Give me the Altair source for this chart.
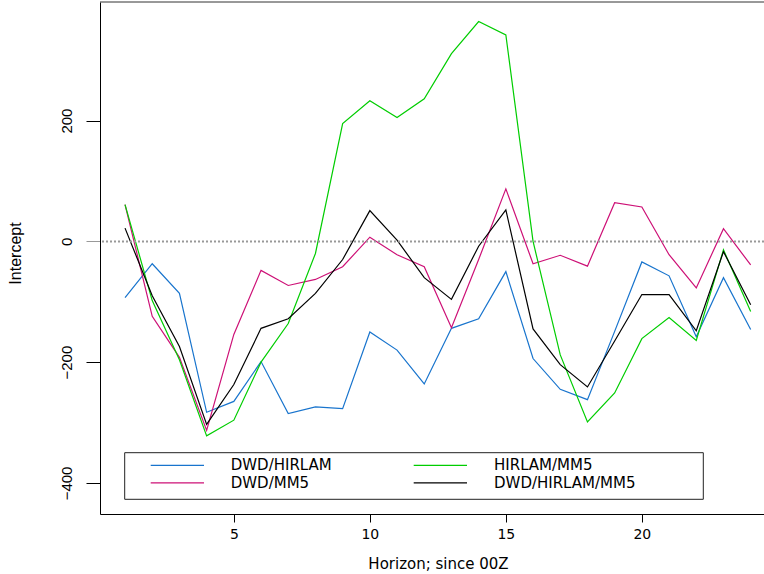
import altair as alt
import pandas as pd

# Forecast horizon (hours since 00Z)
horizon = list(range(1, 25))

series_names = ["DWD/HIRLAM", "DWD/MM5", "HIRLAM/MM5", "DWD/HIRLAM/MM5"]
series_colors = ["#1874CD", "#CD1076", "#00CD00", "#000000"]

# Intercept per horizon for each model combination
dwd_hirlam = [-93, -37, -86, -283, -265, -199, -285, -274, -277, -150, -180, -236,
              -144, -128, -50, -194, -245, -262, -149, -34, -57, -158, -60, -146]
dwd_mm5 = [61, -124, -192, -313, -154, -48, -73, -63, -42, 7, -22, -42,
           -143, -30, 87, -37, -23, -41, 64, 57, -22, -77, 21, -39]
hirlam_mm5 = [61, -98, -196, -322, -296, -200, -136, -20, 195, 233, 205, 236,
              311, 364, 342, 0, -188, -299, -251, -161, -126, -164, -14, -116]
dwd_hirlam_mm5 = [22, -90, -174, -303, -237, -144, -128, -86, -30, 51, 2, -60,
                  -96, -8, 52, -145, -204, -241, -165, -88, -88, -148, -17, -105]

x_ticks = [5, 10, 15, 20]
y_ticks = [-400, -200, 0, 200]

# Axis ranges (R-style 4% extension around the plotted limits)
x_dom = [0.08, 24.49]
y_dom = [-451.4, 396.4]
W, H = 664, 512

values = [dwd_hirlam, dwd_mm5, hirlam_mm5, dwd_hirlam_mm5]
df = pd.DataFrame([
    {"horizon": h, "value": v, "series": name, "order": i}
    for i, (name, vals) in enumerate(zip(series_names, values))
    for h, v in zip(horizon, vals)
])

x_scale = alt.Scale(domain=x_dom, nice=False, zero=False)
y_scale = alt.Scale(domain=y_dom, nice=False, zero=False)
color_scale = alt.Scale(domain=series_names, range=series_colors)


def px_x(p):
    return x_dom[0] + p / W * (x_dom[1] - x_dom[0])


def px_y(p):
    return y_dom[1] - p / H * (y_dom[1] - y_dom[0])


AXIS_FONT = "DejaVu Sans"
NARROW_FONT = "Liberation Sans Narrow, Arial Narrow, Liberation Sans"

lines = alt.Chart(df).mark_line(strokeWidth=1.2).encode(
    x=alt.X("horizon:Q", scale=x_scale,
            axis=alt.Axis(values=x_ticks, format="d", title="Horizon; since 00Z",
                          tickSize=8, labelPadding=16, labelBaseline="alphabetic",
                          labelFont=AXIS_FONT, labelFontSize=14, labelColor="black",
                          titleFont=AXIS_FONT, titleFontSize=15, titleFontWeight="normal",
                          titleColor="black", titleBaseline="alphabetic",
                          titleAlign="center", titleX=338, titleY=54,
                          grid=False, domainColor="black", tickColor="black")),
    y=alt.Y("value:Q", scale=y_scale,
            axis=alt.Axis(values=y_ticks, format="d", title="Intercept",
                          tickSize=14, labelPadding=15, labelAngle=270,
                          labelAlign="center", labelBaseline="alphabetic",
                          labelFont=NARROW_FONT, labelFontSize=15, labelColor="black",
                          titleFont=NARROW_FONT, titleFontSize=16, titleFontWeight="normal",
                          titleColor="black", titleAngle=270, titleAlign="center",
                          titleBaseline="middle", titleX=-85, titleY=251,
                          grid=False, domainColor="black",
                          tickColor=alt.condition("datum.value == 0",
                                                  alt.value("#999999"),
                                                  alt.value("black")))),
    color=alt.Color("series:N", scale=color_scale, legend=None),
    order=alt.Order("order:Q"),
)

zero_line = alt.Chart(pd.DataFrame({"z": [0]})).mark_rule(
    color="#999999", strokeWidth=2, strokeDash=[2, 2]
).encode(y=alt.YDatum(datum=0))

top_border = alt.Chart(pd.DataFrame({"z": [0]})).mark_rule(
    color="#333333", strokeWidth=1
).encode(x=alt.value(0), x2=alt.value(W), y=alt.value(0))

# Legend drawn in the lower part of the panel
box = alt.Chart(pd.DataFrame({"z": [0]})).mark_rect(
    fill="white", stroke="#222222", strokeWidth=1
).encode(
    x=alt.XDatum(datum=px_x(24.7)),
    x2=alt.X2Datum(datum=px_x(603.3)),
    y=alt.YDatum(datum=px_y(450.7)),
    y2=alt.Y2Datum(datum=px_y(497.3)),
)

leg_col = [0, 0, 1, 1]
leg_row = [0, 1, 0, 1]
leg = pd.DataFrame({
    "series": series_names,
    "lx0": [px_x(50.7 + c * 263.0) for c in leg_col],
    "lx1": [px_x(104.0 + c * 263.0) for c in leg_col],
    "tx": [px_x(130.7 + c * 263.3) for c in leg_col],
    "ly": [px_y(463.3 + r * 17.6) for r in leg_row],
})

leg_lines = alt.Chart(leg).mark_rule(strokeWidth=1.2).encode(
    x="lx0:Q",
    x2="lx1:Q",
    y="ly:Q",
    color=alt.Color("series:N", scale=color_scale, legend=None),
)

leg_text = alt.Chart(leg).mark_text(
    align="left", baseline="middle", font=AXIS_FONT, fontSize=15, color="black"
).encode(
    x="tx:Q",
    y="ly:Q",
    text="series:N",
)

chart = alt.layer(lines, zero_line, top_border, box, leg_lines, leg_text).properties(
    width=W, height=H,
    autosize="none",
    padding={"left": 100, "top": 2, "right": 0, "bottom": 60},
    background="white",
).configure_view(stroke=None)

chart.save("out.html", embed_options={"renderer": "svg", "actions": False})
